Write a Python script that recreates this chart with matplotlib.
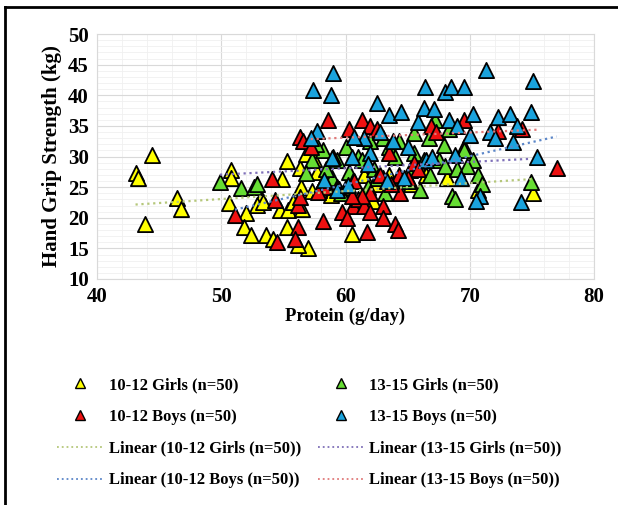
import numpy as np
import matplotlib.pyplot as plt
from matplotlib.lines import Line2D

# 10-12 Girls
g1012_x = [43.1, 43.3, 44.4, 43.9, 46.4, 46.8, 50.8, 50.8, 50.6, 52.0,
           51.8, 52.4, 53.2, 52.9, 53.6, 54.7, 55.4, 55.3, 54.9, 55.3,
           56.5, 56.3, 57.0, 56.2, 56.4, 57.5, 56.8, 55.8, 53.4, 54.2,
           57.7, 58.3, 60.5, 61.5, 62.5, 63.0, 64.5, 65.3, 66.0, 66.5,
           68.2, 69.5, 70.7, 75.1, 59.5, 62.2, 60.0, 58.8, 63.5, 57.3]
g1012_y = [27.3, 26.5, 30.2, 18.9, 23.2, 21.5, 27.8, 26.5, 22.4, 20.7,
           18.5, 17.2, 23.2, 22.1, 17.2, 21.3, 21.3, 18.5, 26.4, 29.2,
           21.5, 28.1, 15.0, 15.6, 25.0, 29.6, 30.4, 22.5, 22.5, 16.5,
           27.5, 26.2, 17.3, 27.0, 25.5, 26.5, 26.0, 25.5, 28.0, 27.0,
           26.5, 31.6, 24.6, 24.0, 24.7, 22.8, 25.0, 23.7, 27.0, 24.3]

# 13-15 Girls
g1315_x = [49.9, 51.6, 52.6, 52.9, 57.3, 57.9, 58.2, 57.6, 58.9, 59.3,
           60.3, 61.0, 61.3, 62.3, 63.0, 62.5, 63.5, 64.0, 63.8, 65.0,
           65.5, 66.0, 66.7, 66.8, 67.5, 68.0, 68.3, 68.6, 69.0, 69.5,
           70.3, 70.7, 71.0, 74.9, 60.6, 62.0, 64.3, 65.2, 58.4, 59.6,
           61.8, 66.3, 67.2, 68.8, 63.2, 56.8, 60.0, 65.5, 69.8, 67.9]
g1315_y = [25.9, 24.8, 25.1, 25.5, 29.5, 24.5, 31.0, 32.0, 26.5, 29.5,
           27.5, 30.0, 29.5, 28.0, 33.0, 26.5, 31.5, 30.0, 25.5, 26.0,
           30.5, 24.5, 33.0, 27.0, 29.5, 28.5, 34.5, 23.5, 28.0, 31.0,
           29.5, 27.0, 25.5, 25.9, 26.0, 32.5, 32.5, 27.8, 28.0, 24.0,
           25.0, 29.5, 36.0, 23.0, 24.0, 27.3, 31.5, 33.8, 28.5, 31.8]

# 10-12 Boys
b1012_x = [54.05, 54.3, 51.1, 54.5, 56.2, 56.2, 55.9, 56.3, 58.2, 56.3,
           56.6, 58.6, 57.2, 59.0, 58.3, 60.3, 61.3, 62.0, 62.5, 60.6,
           61.0, 61.5, 62.0, 63.0, 63.0, 61.7, 64.0, 64.2, 62.0, 64.4,
           63.5, 64.3, 65.5, 65.8, 66.9, 69.5, 67.3, 72.3, 74.2, 77.0,
           59.3, 60.7, 61.3, 63.7, 65.0, 59.7, 60.5, 62.8, 57.8, 60.1]
b1012_y = [26.4, 22.9, 20.4, 16.1, 22.1, 18.5, 16.6, 23.4, 19.4, 33.2,
           32.5, 36.0, 31.5, 30.0, 25.0, 34.5, 36.0, 35.0, 34.5, 22.0,
           23.0, 22.0, 21.0, 22.0, 20.0, 17.7, 19.0, 18.0, 24.0, 24.0,
           30.5, 27.0, 29.0, 28.0, 35.0, 36.0, 34.0, 34.2, 34.5, 28.2,
           25.0, 26.0, 23.5, 25.5, 26.5, 21.0, 23.5, 27.0, 24.2, 19.9]

# 13-15 Boys
b1315_x = [57.4, 59.0, 58.8, 57.7, 57.2, 58.9, 58.3, 59.3, 60.5, 62.5,
           63.5, 64.5, 65.8, 66.3, 66.4, 67.1, 68.0, 68.3, 68.5, 69.5,
           70.0, 70.3, 71.3, 71.6, 72.3, 73.2, 73.5, 74.9, 75.1, 75.4,
           74.1, 70.8, 70.5, 69.3, 68.8, 66.5, 65.0, 63.8, 62.8, 62.0,
           61.8, 60.2, 61.5, 63.3, 64.7, 67.0, 72.0, 69.0, 73.8, 60.7]
b1315_y = [40.8, 43.7, 40.0, 34.2, 33.0, 29.7, 26.2, 24.5, 30.0, 38.7,
           36.8, 37.2, 35.7, 38.0, 41.3, 37.8, 40.5, 36.0, 41.3, 41.3,
           33.5, 37.0, 44.2, 34.0, 36.5, 37.0, 32.3, 37.3, 42.4, 30.0,
           22.5, 23.5, 22.7, 26.5, 30.3, 29.5, 31.5, 32.5, 34.0, 30.5,
           28.7, 25.3, 33.0, 26.0, 26.5, 30.0, 33.0, 35.0, 35.0, 33.2]

labels = ['10-12 Girls (n=50)', '13-15 Girls (n=50)',
          '10-12 Boys (n=50)', '13-15 Boys (n=50)']
series = [(g1012_x, g1012_y), (g1315_x, g1315_y),
          (b1012_x, b1012_y), (b1315_x, b1315_y)]
colors = ['#ffff00', '#66dd33', '#ee1111', '#1aa3dd']
trend_colors = ['#b5c77a', '#7f70b8', '#5b86c8', '#e07a7a']

plt.rcParams['font.family'] = 'Liberation Serif'
plt.rcParams['font.weight'] = 'bold'

fig = plt.figure(figsize=(6.18, 5.05), dpi=100)
ax = fig.add_axes([97 / 618, 1 - 279 / 505, (594 - 97) / 618, (279 - 34) / 505])

ax.set_xlim(40, 80)
ax.set_ylim(10, 50)
ax.set_xticks(range(40, 81, 10))
ax.set_yticks(range(10, 51, 5))
ax.set_xticks(np.arange(40, 81, 2), minor=True)
ax.set_yticks(np.arange(10, 51, 1), minor=True)
ax.grid(True, which='major', color='#d9d9d9', lw=0.8)
ax.grid(True, which='minor', color='#f0f0f0', lw=0.6)
ax.set_axisbelow(True)
ax.tick_params(which='both', length=0, labelsize=15, pad=6)
for sp in ax.spines.values():
    sp.set_color('#d9d9d9')

pts = []
lines = []
for (xs, ys), c, tc, lab in zip(series, colors, trend_colors, labels):
    xs = np.array(xs)
    ys = np.array(ys)
    ax.scatter(xs, ys, marker='^', s=120, c=c, edgecolors='black',
               linewidths=1.3, zorder=3)
    k, b = np.polyfit(xs, ys, 1)
    tx = np.array([xs.min(), xs.max()])
    ax.plot(tx, k * tx + b, ls=':', color=tc, lw=1.6, zorder=4)
    pts.append(Line2D([], [], ls='none', marker='^', markersize=7,
                      markerfacecolor=c, markeredgecolor='black', label=lab))
    lines.append(Line2D([], [], ls=':', color=tc, lw=1.3,
                        label='Linear (' + lab + ')'))

ax.set_xlabel('Protein (g/day)', fontsize=13.5, fontweight='bold', labelpad=0)
ax.set_ylabel('Hand Grip Strength (kg)', fontsize=15, fontweight='bold', labelpad=4)

handles = [pts[0], pts[2], lines[0], lines[2], pts[1], pts[3], lines[1], lines[3]]
fig.legend(handles=handles, labels=[h.get_label() for h in handles], ncol=2,
           loc='upper left', bbox_to_anchor=(42 / 618, 1 - 362 / 505),
           frameon=False, fontsize=12, handlelength=2.8, handletextpad=0.3,
           columnspacing=1.0, labelspacing=0.95)

fig.add_artist(Line2D([5 / 618, 5 / 618], [0, 1 - 7 / 505], color='black', lw=2))
fig.add_artist(Line2D([5 / 618, 1], [1 - 7 / 505, 1 - 7 / 505], color='black', lw=2))

fig.savefig('out.png', dpi=100)
